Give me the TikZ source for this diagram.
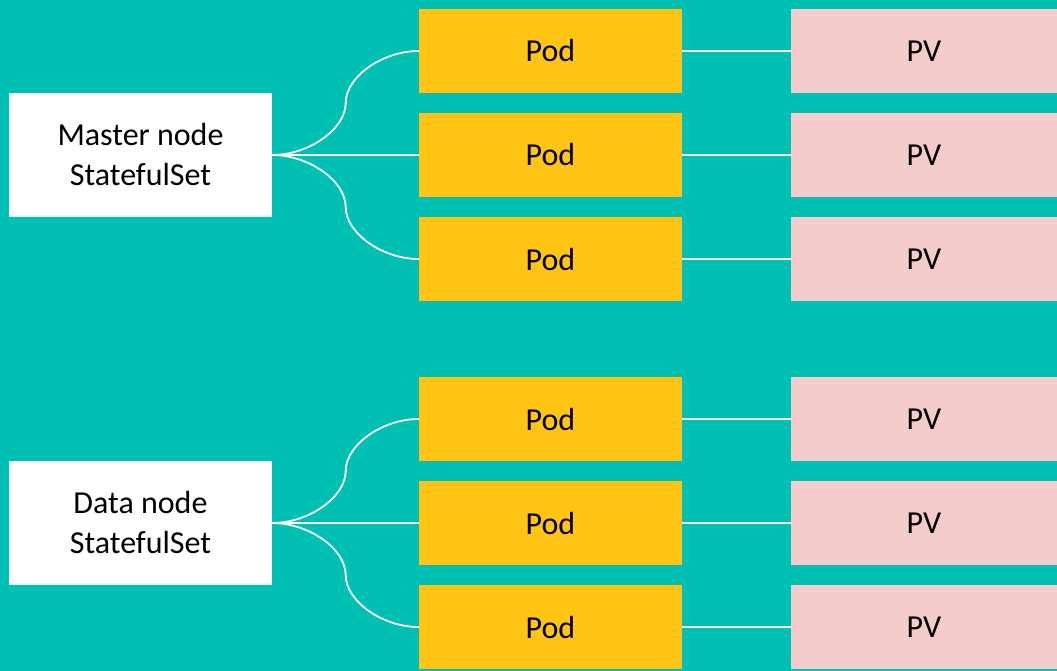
\documentclass[tikz,border=0pt]{standalone}
\usepackage{fontspec}
\setmainfont{Carlito}
\definecolor{bgteal}{HTML}{00BFB3}
\definecolor{podyel}{HTML}{FFC414}
\definecolor{pvpink}{HTML}{F4CCCC}
\begin{document}
\begin{tikzpicture}[x=1pt,y=-1pt,
  box/.style={draw=none,minimum width=263pt,minimum height=84pt,inner sep=0pt,font=\fontsize{32}{40}\selectfont,text=black,align=center},
  setbox/.style={box,fill=white,minimum height=124pt},
  podbox/.style={box,fill=podyel},
  pvbox/.style={box,fill=pvpink,minimum width=266pt},
  conn/.style={draw=white,line width=1.8pt}]
\fill[bgteal] (0,0) rectangle (1057,671);
\useasboundingbox (0,0) rectangle (1057,671);
% group 1
\node[setbox] (m) at (140.5,155) {Master node\\StatefulSet};
\node[podbox] (p1) at (550.5,51) {Pod};
\node[podbox] (p2) at (550.5,155) {Pod};
\node[podbox] (p3) at (550.5,259) {Pod};
\node[pvbox] (v1) at (924,51) {PV};
\node[pvbox] (v2) at (924,155) {PV};
\node[pvbox] (v3) at (924,259) {PV};
% group 2
\node[setbox] (d) at (140.5,523) {Data node\\StatefulSet};
\node[podbox] (q1) at (550.5,419) {Pod};
\node[podbox] (q2) at (550.5,523) {Pod};
\node[podbox] (q3) at (550.5,627) {Pod};
\node[pvbox] (w1) at (924,419) {PV};
\node[pvbox] (w2) at (924,523) {PV};
\node[pvbox] (w3) at (924,627) {PV};
% connectors
\foreach \s/\a/\b/\c in {m/p1/p2/p3,d/q1/q2/q3}{
  \draw[conn] (\s.east) .. controls ([xshift=36.75pt]\s.east) and ([xshift=73.5pt,yshift=26pt]\s.east) .. ([xshift=73.5pt,yshift=52pt]\s.east)
     .. controls ([xshift=73.5pt,yshift=78pt]\s.east) and ([xshift=-36.75pt]\a.west) .. (\a.west);
  \draw[conn] (\s.east) -- (\b.west);
  \draw[conn] (\s.east) .. controls ([xshift=36.75pt]\s.east) and ([xshift=73.5pt,yshift=-26pt]\s.east) .. ([xshift=73.5pt,yshift=-52pt]\s.east)
     .. controls ([xshift=73.5pt,yshift=-78pt]\s.east) and ([xshift=-36.75pt]\c.west) .. (\c.west);
}
\foreach \a/\b in {p1/v1,p2/v2,p3/v3,q1/w1,q2/w2,q3/w3}{
  \draw[conn] (\a.east) -- (\b.west);
}
\end{tikzpicture}
\end{document}
